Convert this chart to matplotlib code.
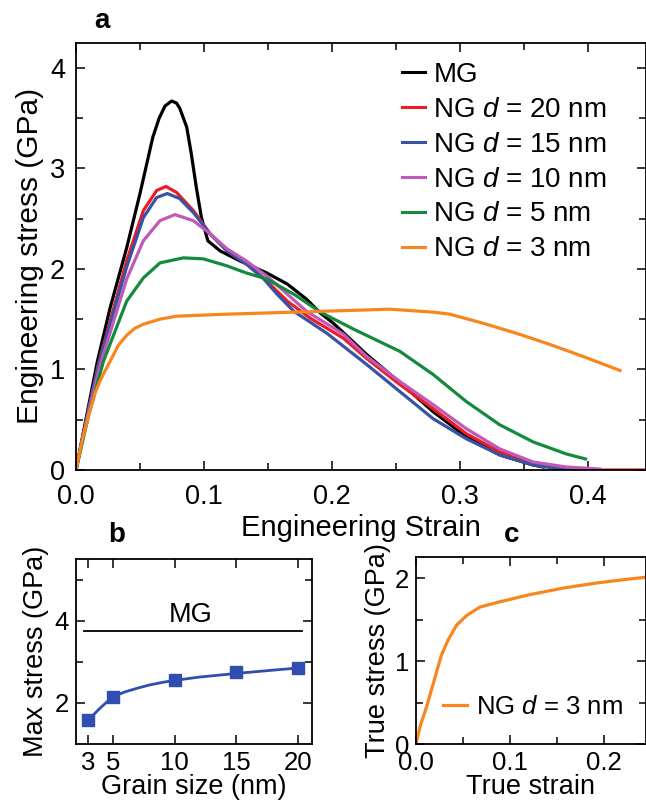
import matplotlib
matplotlib.use("Agg")
import matplotlib.pyplot as plt
from matplotlib.ticker import MultipleLocator, FixedLocator, FormatStrFormatter

plt.rcParams['font.family'] = ['Liberation Sans', 'DejaVu Sans']
plt.rcParams['mathtext.fontset'] = 'custom'
plt.rcParams['mathtext.rm'] = 'Liberation Sans'
plt.rcParams['mathtext.it'] = 'Liberation Sans:italic'

# ---------------- data: panel a ----------------
mg_strain = [0.0, 0.008, 0.0167, 0.0266, 0.0396, 0.05, 0.06, 0.065, 0.0695, 0.0747, 0.0785, 0.081,
             0.0865, 0.090, 0.094, 0.098, 0.103, 0.1125, 0.128, 0.149, 0.165, 0.180, 0.191, 0.201,
             0.227, 0.253, 0.279, 0.305, 0.331, 0.357, 0.365]
mg_stress = [0.0, 0.52, 1.08, 1.61, 2.21, 2.75, 3.31, 3.50, 3.62, 3.67, 3.65, 3.60,
             3.41, 3.15, 2.81, 2.51, 2.28, 2.18, 2.08, 1.96, 1.85, 1.70, 1.56, 1.46,
             1.15, 0.87, 0.58, 0.33, 0.15, 0.05, 0.03]

ng20_strain = [0.0, 0.009, 0.018, 0.0396, 0.0526, 0.063, 0.0703, 0.0786, 0.0917, 0.1047, 0.118,
               0.133, 0.149, 0.165, 0.183, 0.209, 0.227, 0.253, 0.279, 0.305, 0.331, 0.357,
               0.383, 0.41, 0.445]
ng20_stress = [0.0, 0.55, 1.08, 2.08, 2.58, 2.78, 2.82, 2.76, 2.58, 2.35, 2.18,
               2.05, 1.88, 1.68, 1.51, 1.31, 1.11, 0.85, 0.61, 0.36, 0.18, 0.07,
               0.01, 0.0, 0.0]

ng15_strain = [0.0, 0.009, 0.018, 0.0396, 0.0526, 0.063, 0.0713, 0.081, 0.0917, 0.1047, 0.118,
               0.133, 0.146, 0.157, 0.170, 0.196, 0.217, 0.227, 0.253, 0.279, 0.305, 0.331,
               0.357, 0.383, 0.405]
ng15_stress = [0.0, 0.55, 1.07, 2.02, 2.51, 2.71, 2.75, 2.70, 2.56, 2.35, 2.18,
               2.05, 1.91, 1.75, 1.58, 1.36, 1.15, 1.05, 0.78, 0.51, 0.31, 0.15,
               0.05, 0.0, 0.0]

ng10_strain = [0.0, 0.009, 0.019, 0.0396, 0.0526, 0.0656, 0.0773, 0.0917, 0.1047, 0.118,
               0.133, 0.149, 0.165, 0.180, 0.209, 0.227, 0.253, 0.279, 0.305, 0.331,
               0.357, 0.383, 0.409]
ng10_stress = [0.0, 0.53, 1.05, 1.90, 2.28, 2.48, 2.54, 2.48, 2.35, 2.20,
               2.08, 1.93, 1.75, 1.58, 1.35, 1.13, 0.88, 0.65, 0.41, 0.21,
               0.08, 0.03, 0.01]

ng5_strain = [0.0, 0.010, 0.0214, 0.0396, 0.0526, 0.0656, 0.0839, 0.0995, 0.118, 0.133, 0.149,
              0.170, 0.191, 0.217, 0.253, 0.279, 0.305, 0.331, 0.357, 0.383, 0.398]
ng5_stress = [0.0, 0.55, 1.08, 1.68, 1.91, 2.06, 2.11, 2.10, 2.03, 1.96, 1.90,
              1.75, 1.57, 1.40, 1.18, 0.95, 0.68, 0.45, 0.28, 0.16, 0.11]

ng3_strain = [0.0, 0.005, 0.010, 0.015, 0.020, 0.0266, 0.033, 0.0396, 0.046, 0.0526, 0.0656,
              0.0786, 0.118, 0.170, 0.222, 0.245, 0.279, 0.292, 0.318, 0.344, 0.370, 0.396, 0.425]
ng3_stress = [0.0, 0.30, 0.55, 0.77, 0.92, 1.08, 1.24, 1.34, 1.41, 1.45, 1.50,
              1.53, 1.55, 1.57, 1.59, 1.60, 1.57, 1.55, 1.46, 1.36, 1.25, 1.13, 0.99]

series_labels = ["MG", "NG $d$ = 20 nm", "NG $d$ = 15 nm", "NG $d$ = 10 nm",
                 "NG $d$ = 5 nm", "NG $d$ = 3 nm"]
series_colors = ["#000000", "#ec1c24", "#3953a4", "#c159b8", "#138a3c", "#f7861f"]

# ---------------- data: panel b ----------------
grain_size = [3, 5, 10, 15, 20]
max_stress = [1.58, 2.15, 2.55, 2.75, 2.86]
fit_size = [3, 4, 5, 6, 7, 8, 9, 10, 12, 15, 18, 20.3]
fit_stress = [1.58, 1.88, 2.15, 2.27, 2.36, 2.44, 2.50, 2.55, 2.63, 2.72, 2.80, 2.86]
mg_max_stress = 3.75
grain_ticks = [3, 5, 10, 15, 20]

# ---------------- data: panel c ----------------
true_strain = [0.0, 0.0043, 0.0113, 0.0184, 0.027, 0.034, 0.043, 0.054, 0.068, 0.088,
               0.121, 0.157, 0.192, 0.228, 0.245]
true_stress = [0.0, 0.21, 0.45, 0.73, 1.07, 1.25, 1.43, 1.55, 1.65, 1.71,
               1.80, 1.88, 1.94, 1.99, 2.01]

W, H = 646, 805
fig = plt.figure(figsize=(W / 100, H / 100), dpi=100)


def px_axes(x0, y0, x1, y1):
    return fig.add_axes([x0 / W, 1 - y1 / H, (x1 - x0) / W, (y1 - y0) / H])


def style(ax, fs, xpad, ypad):
    for s in ax.spines.values():
        s.set_linewidth(1.3)
    ax.tick_params(which='both', direction='in', top=True, right=True,
                   labelsize=fs, width=1.1)
    ax.tick_params(axis='x', pad=xpad)
    ax.tick_params(axis='y', pad=ypad)
    ax.tick_params(which='major', length=6.5)
    ax.tick_params(which='minor', length=5)


# ---------------- panel a ----------------
axa = px_axes(76, 42.7, 646, 470)
xs = [mg_strain, ng20_strain, ng15_strain, ng10_strain, ng5_strain, ng3_strain]
ys = [mg_stress, ng20_stress, ng15_stress, ng10_stress, ng5_stress, ng3_stress]
for x, y, lab, c in zip(xs, ys, series_labels, series_colors):
    axa.plot(x, y, color=c, lw=2.3, label=lab, solid_joinstyle='round')
axa.set_xlim(0, 0.4453)
axa.set_ylim(0, 4.25)
axa.xaxis.set_major_locator(MultipleLocator(0.1))
axa.xaxis.set_minor_locator(MultipleLocator(0.05))
axa.yaxis.set_major_locator(MultipleLocator(1))
axa.yaxis.set_minor_locator(MultipleLocator(0.5))
axa.xaxis.set_major_formatter(FormatStrFormatter('%.1f'))
style(axa, 19.5, 10, 8)
axa.set_xlabel("Engineering Strain", fontsize=21, labelpad=3)
axa.set_ylabel("Engineering stress (GPa)", fontsize=21.5, labelpad=4)
leg = axa.legend(loc='upper left', bbox_to_anchor=(0.572, 0.955), frameon=False,
                 fontsize=20, handlelength=0.83, handletextpad=0.3, labelspacing=0.32,
                 borderpad=0, borderaxespad=0)
for h in leg.get_lines():
    h.set_linewidth(2.2)
fig.text(102 / W, 1 - 21 / H, "a", fontsize=20, fontweight='bold', ha='center', va='center')

# ---------------- panel b ----------------
axb = px_axes(76, 559.3, 311.7, 744)
axb.plot(fit_size, fit_stress, color="#2f4eb0", lw=2)
axb.plot(grain_size, max_stress, ls='none', marker='s', ms=9, color="#2f4eb0")
axb.plot([2.7, 20.3], [mg_max_stress, mg_max_stress], color='black', lw=1.3)
axb.text(11.3, 4.14, "MG", fontsize=19.5, ha='center', va='center')
axb.set_xlim(2.03, 21.1)
axb.set_ylim(1, 5.5)
axb.xaxis.set_major_locator(FixedLocator(grain_ticks))
axb.yaxis.set_major_locator(FixedLocator([2, 4]))
axb.yaxis.set_minor_locator(FixedLocator([3, 5]))
style(axb, 18.5, 5, 5)
axb.set_xlabel("Grain size (nm)", fontsize=19.5, labelpad=-1)
axb.set_ylabel("Max stress (GPa)", fontsize=19.5, labelpad=4)
fig.text(117 / W, 1 - 535 / H, "b", fontsize=20, fontweight='bold', ha='center', va='center')

# ---------------- panel c ----------------
axc = px_axes(416, 557.3, 646, 744)
axc.plot(true_strain, true_stress, color="#f7861f", lw=2.3, label="NG $d$ = 3 nm")
axc.set_xlim(0, 0.2447)
axc.set_ylim(0, 2.25)
axc.xaxis.set_major_locator(MultipleLocator(0.1))
axc.xaxis.set_minor_locator(MultipleLocator(0.05))
axc.yaxis.set_major_locator(MultipleLocator(1))
axc.yaxis.set_minor_locator(MultipleLocator(0.5))
axc.xaxis.set_major_formatter(FormatStrFormatter('%.1f'))
style(axc, 18.5, 5, 5)
axc.set_xlabel("True strain", fontsize=19.5, labelpad=-1)
axc.set_ylabel("True stress (GPa)", fontsize=19.5, labelpad=3)
legc = axc.legend(loc='center left', bbox_to_anchor=(0.117, 0.198), frameon=False,
                  fontsize=18.5, handlelength=0.92, handletextpad=0.38,
                  borderpad=0, borderaxespad=0)
fig.text(511.7 / W, 1 - 535 / H, "c", fontsize=20, fontweight='bold', ha='center', va='center')

fig.savefig("out.png", dpi=100)
